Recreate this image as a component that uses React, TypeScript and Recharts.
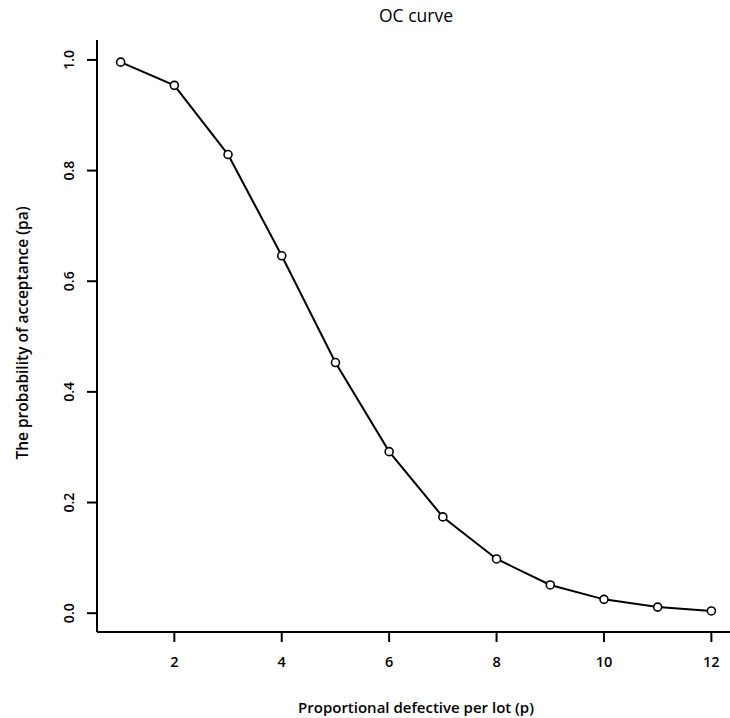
import { Line, LineChart, XAxis, YAxis } from "recharts"

const pValues = [1, 2, 3, 4, 5, 6, 7, 8, 9, 10, 11, 12]
const paValues = [0.996, 0.954, 0.829, 0.646, 0.453, 0.292, 0.174, 0.098, 0.051, 0.025, 0.011, 0.004]
const xTicks = [2, 4, 6, 8, 10, 12]
const yTicks = [0, 0.2, 0.4, 0.6, 0.8, 1.0]

const data = pValues.map((p, i) => ({ p, pa: paValues[i] }))

const font = "'Open Sans', 'DejaVu Sans', sans-serif"

function YTick(props: any) {
  const { x, y, payload } = props
  return (
    <text
      x={x}
      y={y}
      transform={`rotate(-90 ${x} ${y})`}
      textAnchor="middle"
      fontFamily={font}
      fontSize={14}
      fontWeight={600}
      fill="#000"
    >
      {Number(payload.value).toFixed(1)}
    </text>
  )
}

function OpenDot(props: any) {
  const { cx, cy } = props
  return <circle cx={cx} cy={cy} r={4} fill="#fff" stroke="#000" strokeWidth={1.6} />
}

export default function App() {
  return (
    <div style={{ position: "absolute", left: 0, top: 0, width: 730, height: 718, overflow: "hidden", background: "#fff" }}>
      <LineChart
        width={760}
        height={718}
        data={data}
        margin={{ top: 40, right: 25, bottom: 0, left: 0 }}
      >
        <XAxis
          dataKey="p"
          type="number"
          domain={[0.56, 12.44]}
          ticks={xTicks}
          height={86}
          tickSize={10}
          tickMargin={15}
          allowDataOverflow
          stroke="#000"
          strokeWidth={2}
          tick={{ fill: "#000", fontSize: 14.5, fontFamily: font, fontWeight: 600 }}
        />
        <XAxis
          xAxisId="top"
          orientation="top"
          type="number"
          domain={[0.56, 12.44]}
          height={0}
          tick={false}
          tickLine={false}
          stroke="#000"
          strokeWidth={2}
        />
        <YAxis
          type="number"
          domain={[-0.034, 1.036]}
          ticks={yTicks}
          width={97}
          tickSize={10}
          tickMargin={13}
          allowDataOverflow
          stroke="#000"
          strokeWidth={2}
          tick={<YTick />}
        />
        <Line
          dataKey="pa"
          stroke="#000"
          strokeWidth={2}
          dot={<OpenDot />}
          activeDot={false}
          isAnimationActive={false}
        />
        <text x={416} y={22} textAnchor="middle" fontFamily={font} fontSize={17.5} fill="#000">
          OC curve
        </text>
        <text x={416} y={713} textAnchor="middle" fontFamily={font} fontSize={15} fontWeight={600} fill="#000">
          Proportional defective per lot (p)
        </text>
        <text
          x={28}
          y={333}
          transform="rotate(-90 28 333)"
          textAnchor="middle"
          fontFamily={font}
          fontSize={15.5}
          fontWeight={600}
          fill="#000"
        >
          The probability of acceptance (pa)
        </text>
      </LineChart>
    </div>
  )
}
